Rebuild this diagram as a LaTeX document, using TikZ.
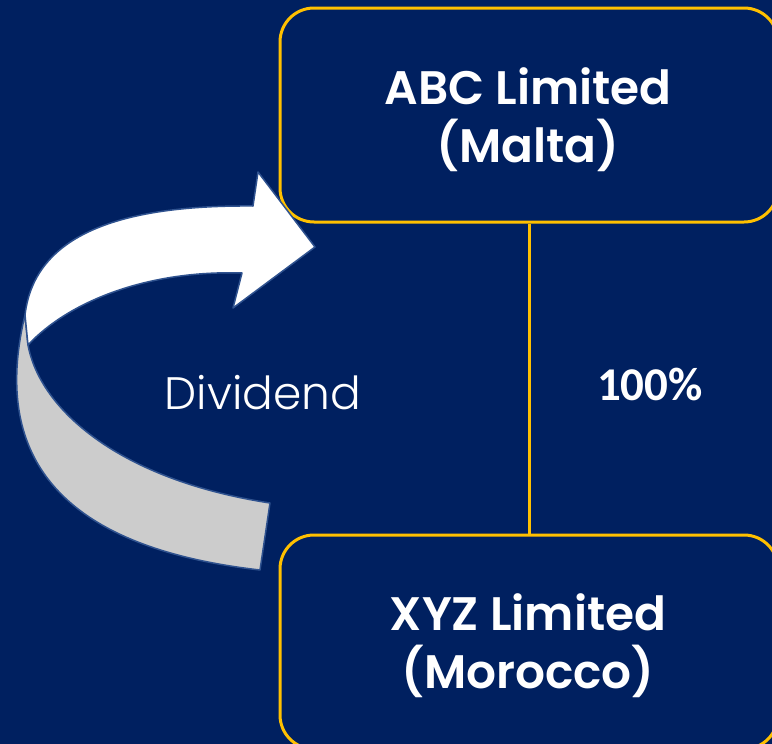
\documentclass[tikz,border=0pt]{standalone}
\usepackage{fontspec}
\setmainfont{Poppins}[BoldFont={Poppins SemiBold}]
\newfontfamily\lightfont{Poppins Light}
\newfontfamily\numfont{Carlito}
\definecolor{navy}{HTML}{002060}
\definecolor{gold}{HTML}{FFC000}
\definecolor{edgeblue}{HTML}{2F528F}
\definecolor{ribbongray}{HTML}{CCCCCC}
\tikzset{
  entity/.style={draw=gold, line width=3pt, rounded corners=34pt, fill=navy,
    minimum width=498pt, minimum height=214pt, inner sep=0pt},
  entitytext/.style={text=white, font=\bfseries\fontsize{47}{58}\selectfont, align=center, inner sep=0pt},
  ribbon/.style={draw=edgeblue, line width=1.5pt, line join=round},
}
\begin{document}
\begin{tikzpicture}[x=1pt, y=-1pt]
\useasboundingbox (0,0) rectangle (772,744);
\clip (0,0) rectangle (772,744);
\fill[navy] (0,0) rectangle (772,744);
% boxes
\node[entity] (abc) at (529,115) {};
\node[entity] (xyz) at (529,642) {};
\draw[gold, line width=3pt] (abc.south) -- (xyz.north);
% texts
\node[entitytext, anchor=base] (abct) at (528,162) {ABC Limited\\(Malta)};
\node[entitytext, anchor=base] (xyzt) at (528,688) {XYZ Limited\\(Morocco)};
\node[text=white, font=\numfont\bfseries\fontsize{47}{50}\selectfont, anchor=base, inner sep=0pt] (pct) at (650,400) {100\%};
\node[text=white, font=\lightfont\fontsize{45.5}{52}\selectfont, anchor=base, inner sep=0pt] (div) at (263,409) {Dividend};
% curved arrow: gray back part
\filldraw[ribbon, fill=ribbongray]
  (25,315) .. controls (-5,440) and (40,545) .. (260,570)
  -- (270,503)
  .. controls (120,480) and (40,410) .. (28,345) -- cycle;
% white front part with head
\filldraw[ribbon, fill=white]
  (253,206) -- (258,172) -- (315,247) -- (233,308) -- (242,273)
  .. controls (150,270) and (70,300) .. (28,345)
  -- (25,315)
  .. controls (35,230) and (130,205) .. (253,206) -- cycle;
\end{tikzpicture}
\end{document}
